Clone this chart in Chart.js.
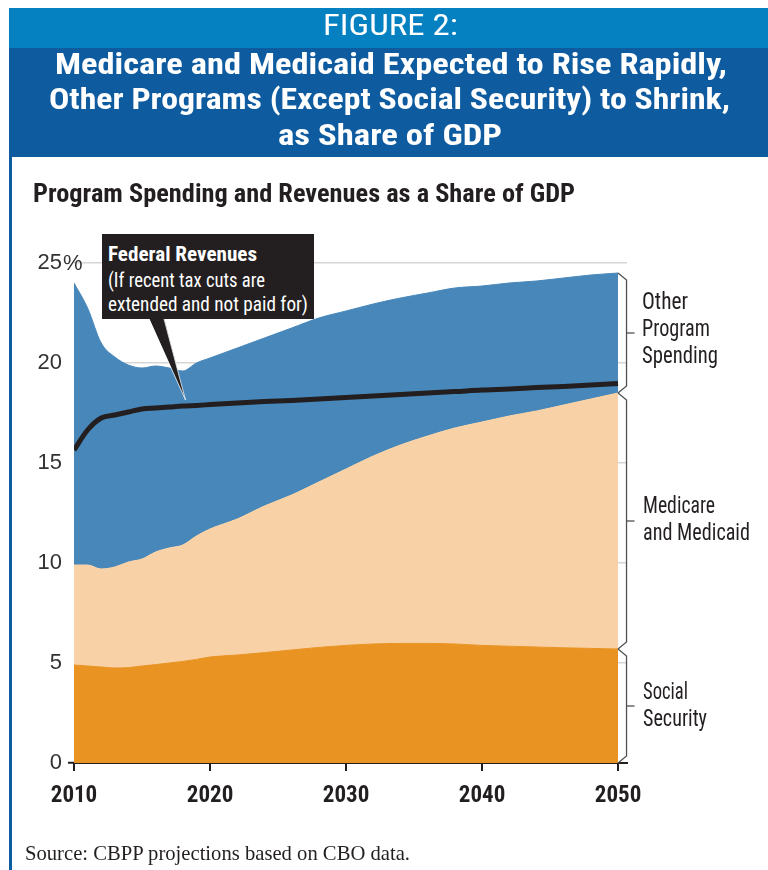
<!DOCTYPE html>
<html>
<head>
<meta charset="utf-8">
<script src="https://cdn.jsdelivr.net/npm/chart.js@4.4.1/dist/chart.umd.min.js"></script>
<style>
html,body{margin:0;padding:0;background:#fff;}
body{width:768px;height:870px;position:relative;overflow:hidden;}
#band1{position:absolute;left:9px;top:8px;width:759px;height:40px;background:#0581c1;}
#band2{position:absolute;left:9px;top:48px;width:759px;height:109px;background:#0e5ba0;}
#leftline{position:absolute;left:9px;top:157px;width:2.5px;height:713px;background:#0e5ba0;}
#callout{position:absolute;left:101.5px;top:234px;width:212px;height:85px;background:#231f20;z-index:2;}
#wrap{position:absolute;left:0;top:0;width:768px;height:870px;z-index:1;}
.t{position:absolute;white-space:nowrap;line-height:1;transform-origin:0 50%;display:inline-block;z-index:3;}
.n{font-family:"Liberation Sans Narrow","Arial Narrow","Roboto Condensed","Noto Sans Condensed","DejaVu Sans Condensed",sans-serif;}
.s{font-family:"Liberation Serif","DejaVu Serif",serif;color:#231f20;}
.w{color:#fff;}
.k{color:#231f20;}
.b{font-weight:bold;}
</style>
</head>
<body>
<div id="band1"></div>
<div id="band2"></div>
<div id="leftline"></div>
<div id="wrap"><canvas id="c" width="768" height="870"></canvas></div>
<div id="callout"></div>

<div class="t n w" data-x="323" data-cy="25" data-w="135" data-fs="29">FIGURE 2:</div>
<div class="t n w b" data-x="55" data-cy="63.5" data-w="672" data-fs="30">Medicare and Medicaid Expected to Rise Rapidly,</div>
<div class="t n w b" data-x="49" data-cy="99" data-w="681" data-fs="30">Other Programs (Except Social Security) to Shrink,</div>
<div class="t n w b" data-x="278" data-cy="135" data-w="224" data-fs="30">as Share of GDP</div>

<div class="t n k b" data-x="33" data-cy="193.5" data-w="542" data-fs="25">Program Spending and Revenues as a Share of GDP</div>

<div class="t n w b" data-x="108" data-cy="254" data-w="149" data-fs="21">Federal Revenues</div>
<div class="t n w" data-x="108" data-cy="280" data-w="157" data-fs="20">(If recent tax cuts are</div>
<div class="t n w" data-x="108" data-cy="304" data-w="200" data-fs="20">extended and not paid for)</div>

<div class="t n k" data-x="642" data-cy="301.5" data-w="46" data-fs="23">Other</div>
<div class="t n k" data-x="642" data-cy="328.5" data-w="68" data-fs="23">Program</div>
<div class="t n k" data-x="642" data-cy="355.5" data-w="76" data-fs="23">Spending</div>
<div class="t n k" data-x="643" data-cy="505.5" data-w="72" data-fs="23">Medicare</div>
<div class="t n k" data-x="643" data-cy="532.5" data-w="107" data-fs="23">and Medicaid</div>
<div class="t n k" data-x="643" data-cy="691.5" data-w="45" data-fs="23">Social</div>
<div class="t n k" data-x="643" data-cy="718.5" data-w="64" data-fs="23">Security</div>

<div class="t s" data-x="25" data-cy="852.5" data-w="385" data-fs="22">Source: CBPP projections based on CBO data.</div>

<script>
// ---- data ----
const years = [2010,2011,2012,2013,2014,2015,2016,2017,2018,2019,2020,2022,2024,2026,2028,2030,2032,2034,2036,2038,2040,2042,2044,2046,2048,2050];
const socialSecurity = [4.9,4.85,4.8,4.75,4.77,4.85,4.92,5.0,5.08,5.18,5.3,5.4,5.52,5.65,5.78,5.88,5.95,5.98,5.98,5.95,5.88,5.84,5.8,5.76,5.73,5.7];
const medicareMedicaid = [5.0,5.05,4.9,5.05,5.28,5.35,5.63,5.75,5.82,6.17,6.4,6.8,7.33,7.75,8.27,8.82,9.4,9.92,10.37,10.8,11.17,11.51,11.8,12.14,12.47,12.8];
const otherPrograms = [14.1,12.85,11.3,10.5,9.85,9.55,9.3,9.0,8.7,8.65,8.55,8.55,8.4,8.35,8.2,7.9,7.6,7.35,7.15,7.0,6.8,6.65,6.5,6.35,6.2,6.0];
const federalRevenues = [15.65,16.65,17.25,17.4,17.55,17.7,17.75,17.8,17.85,17.88,17.92,18.0,18.07,18.13,18.2,18.28,18.35,18.42,18.5,18.57,18.65,18.7,18.77,18.83,18.9,18.97];
const xTickYears = [2010,2020,2030,2040,2050];
const yTickValues = [0,5,10,15,20,25];
const pointerTip = {year: 2018.2, value: 18.15};

// ---- text layout ----
function layoutTexts(){
  document.querySelectorAll('.t').forEach(el=>{
    const fs = parseFloat(el.dataset.fs);
    el.style.fontSize = fs + 'px';
    el.style.transform = 'none';
    el.style.left = el.dataset.x + 'px';
    el.style.top = (parseFloat(el.dataset.cy) - 0.4885*fs) + 'px';
    const nat = el.getBoundingClientRect().width;
    const s = parseFloat(el.dataset.w) / nat;
    el.style.transform = 'scaleX(' + s + ')';
  });
}
layoutTexts();
if (document.fonts && document.fonts.ready) document.fonts.ready.then(layoutTexts);

const NARROW = '"Liberation Sans Narrow","Arial Narrow","Roboto Condensed","Noto Sans Condensed","DejaVu Sans Condensed",sans-serif';
const REG = '"Liberation Sans","DejaVu Sans",sans-serif';
const toPts = arr => years.map((yr,i)=>({x:yr, y:arr[i]}));

const overlay = {
  id:'overlay',
  afterDatasetsDraw(chart){
    const {ctx, scales:{x, y}} = chart;
    const n = years.length - 1;
    const xe = x.getPixelForValue(years[n]);
    const xb = xe + 8.5;
    const ss = socialSecurity[n];
    const mm = ss + medicareMedicaid[n];
    const tot = mm + otherPrograms[n];
    const segs = [[0, ss], [ss, mm], [mm, tot]];
    ctx.save();
    ctx.strokeStyle = '#505050';
    ctx.lineWidth = 1.3;
    ctx.lineJoin = 'miter';
    segs.forEach(([a, b]) => {
      const y1 = y.getPixelForValue(b), y2 = y.getPixelForValue(a), ym = (y1 + y2) / 2;
      ctx.beginPath();
      ctx.moveTo(xe, y1); ctx.lineTo(xb, y1 + 7); ctx.lineTo(xb, y2 - 7); ctx.lineTo(xe, y2);
      ctx.stroke();
      ctx.beginPath(); ctx.moveTo(xb, ym); ctx.lineTo(xb + 8, ym); ctx.stroke();
    });
    // callout pointer
    const tx = x.getPixelForValue(pointerTip.year), ty = y.getPixelForValue(pointerTip.value);
    ctx.beginPath();
    ctx.moveTo(149, 318); ctx.lineTo(164, 318); ctx.lineTo(tx, ty); ctx.closePath();
    ctx.fillStyle = '#231f20';
    ctx.fill();
    ctx.strokeStyle = 'rgba(255,255,255,0.75)';
    ctx.lineWidth = 1;
    ctx.beginPath(); ctx.moveTo(149, 319); ctx.lineTo(tx, ty); ctx.lineTo(164, 319); ctx.stroke();
    ctx.restore();
  },
  afterDraw(chart){
    const {ctx, scales:{y}} = chart;
    ctx.save();
    ctx.font = '22px ' + REG;
    ctx.fillStyle = '#333';
    ctx.textAlign = 'left';
    ctx.textBaseline = 'middle';
    ctx.fillText('%', chart.chartArea.left - 11, y.getPixelForValue(25) + 1);
    ctx.restore();
  }
};

new Chart(document.getElementById('c'), {
  type: 'line',
  data: {
    datasets: [
      {label:'Federal Revenues', data: toPts(federalRevenues), stack:'rev', borderColor:'#231f20', borderWidth:5, fill:false, pointRadius:0, cubicInterpolationMode:'monotone', borderCapStyle:'butt'},
      {label:'Social Security', data: toPts(socialSecurity), stack:'spend', borderColor:'#e99323', backgroundColor:'#e99323', borderWidth:1, fill:'origin', pointRadius:0, cubicInterpolationMode:'monotone'},
      {label:'Medicare and Medicaid', data: toPts(medicareMedicaid), stack:'spend', borderColor:'#f8d2a6', backgroundColor:'#f8d2a6', borderWidth:1, fill:'-1', pointRadius:0, cubicInterpolationMode:'monotone'},
      {label:'Other Program Spending', data: toPts(otherPrograms), stack:'spend', borderColor:'#4787ba', backgroundColor:'#4787ba', borderWidth:1, fill:'-1', pointRadius:0, cubicInterpolationMode:'monotone'}
    ]
  },
  options: {
    responsive: false,
    animation: false,
    events: [],
    layout: {padding: {left: 0, right: 141, top: 263, bottom: 57}},
    plugins: {legend: {display: false}, tooltip: {enabled: false}, title: {display: false}},
    scales: {
      x: {
        type: 'linear',
        min: 2010,
        max: 2050.66,
        afterBuildTicks: s => { s.ticks = xTickYears.map(v => ({value: v})); },
        afterFit: s => { s.height = 50; },
        border: {display: true, color: '#231f20', width: 2},
        grid: {drawOnChartArea: false, drawTicks: true, tickLength: 8, color: '#231f20', lineWidth: 2},
        ticks: {
          padding: 11,
          color: '#231f20',
          font: {family: NARROW, size: 23, weight: 'bold'},
          maxRotation: 0,
          autoSkip: false,
          callback: v => String(v)
        }
      },
      y: {
        type: 'linear',
        stacked: true,
        min: 0,
        max: 25,
        afterBuildTicks: s => { s.ticks = yTickValues.map(v => ({value: v})); },
        afterFit: s => { s.width = 74; },
        border: {display: false},
        grid: {
          drawTicks: true,
          tickLength: 6,
          lineWidth: 1.5,
          color: c => (c.tick && c.tick.value === 0) ? 'rgba(0,0,0,0)' : '#d6d6d6',
          tickColor: c => (c.tick && c.tick.value === 0) ? '#231f20' : 'rgba(0,0,0,0)',
          tickWidth: 2
        },
        ticks: {
          padding: 6,
          color: '#333',
          font: {family: REG, size: 22},
          callback: v => String(v)
        }
      }
    }
  },
  plugins: [overlay]
});
</script>
</body>
</html>
